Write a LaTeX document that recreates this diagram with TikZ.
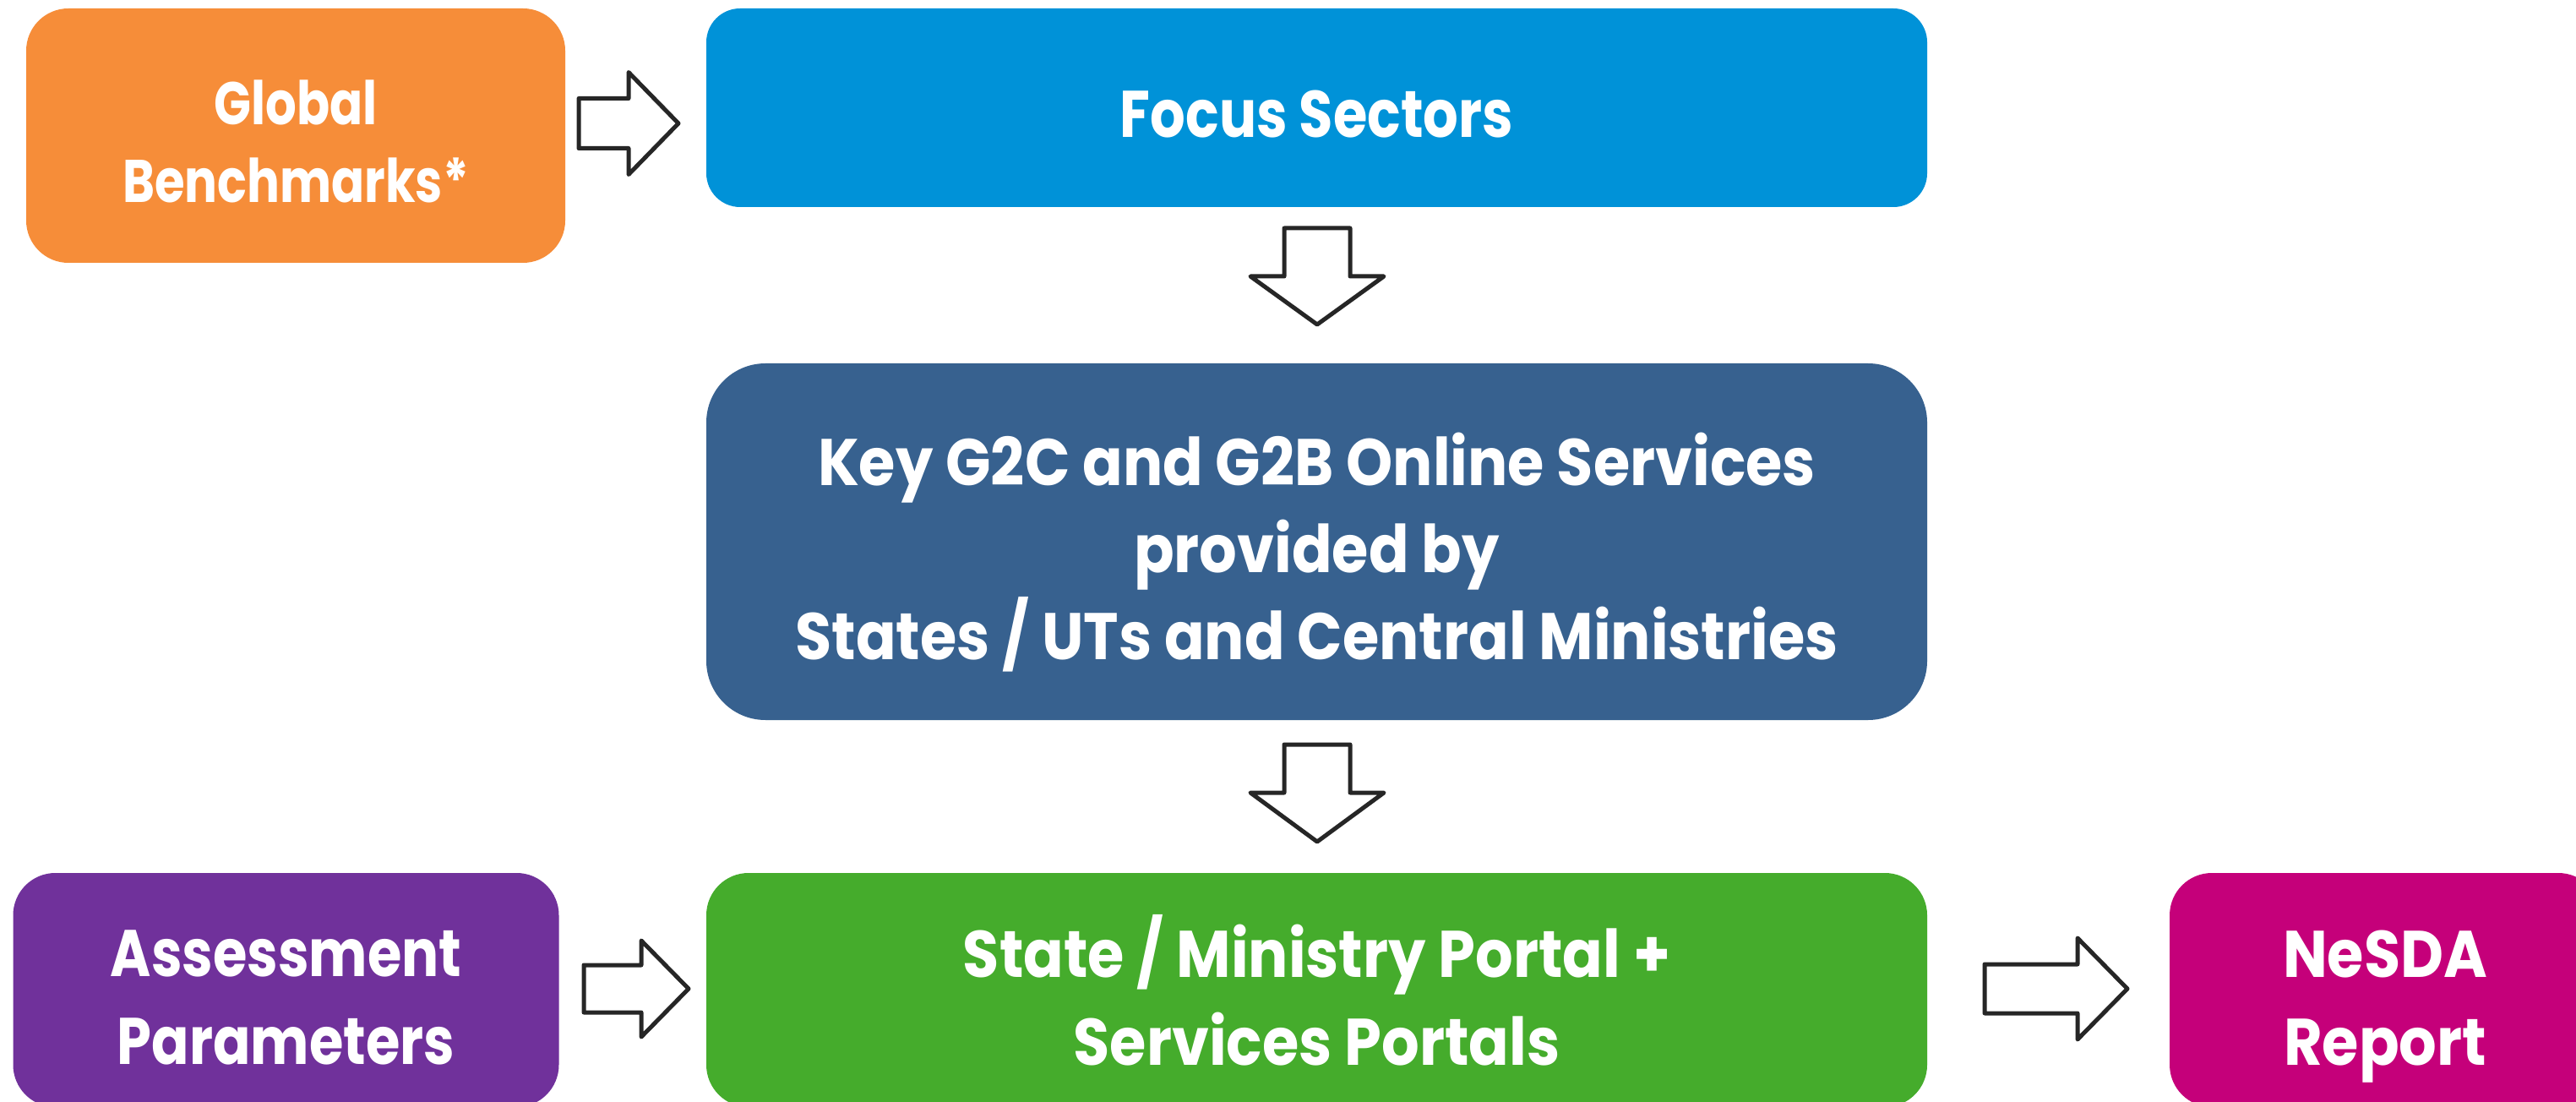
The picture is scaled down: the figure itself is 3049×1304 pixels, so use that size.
\documentclass[tikz,border=0pt]{standalone}
\usepackage{fontspec}
\newfontfamily\fontG{Poppins}[FakeStretch=0.81]
\newfontfamily\fontA{Poppins}[FakeStretch=0.84]
\newfontfamily\fontB{Poppins}[FakeStretch=0.90]
\definecolor{cOrange}{HTML}{F68D39}
\definecolor{cBlue}{HTML}{0092D8}
\definecolor{cNavy}{HTML}{37618F}
\definecolor{cGreen}{HTML}{45AC2C}
\definecolor{cPurple}{HTML}{70319B}
\definecolor{cMagenta}{HTML}{C5007A}
\definecolor{cArrow}{HTML}{262626}
\tikzset{
  box/.style={draw=none, rounded corners=12.5pt, inner sep=0pt},
  lbl/.style={text=white, align=center, inner sep=0pt},
  blockarrow/.style={draw=cArrow, fill=white, line width=1.25pt, line join=round},
}
\begin{document}
\begin{tikzpicture}[x=0.25pt,y=-0.25pt]
\useasboundingbox (0,0) rectangle (3049,1304);
\fill[white] (0,0) rectangle (3049,1304);
\clip (0,0) rectangle (3049,1304);
% boxes
\node[box, fill=cOrange, minimum width=159.5pt, minimum height=75.25pt] (gb) at (350,160.5) {};
\node[box, fill=cBlue, minimum width=361.25pt, minimum height=58.75pt, rounded corners=10pt] (fs) at (1558.5,127.5) {};
\node[box, fill=cNavy, minimum width=361.25pt, minimum height=105.5pt, rounded corners=17.5pt] (key) at (1558.5,641) {};
\node[box, fill=cPurple, minimum width=161.5pt, minimum height=69.25pt] (ap) at (338.5,1171.5) {};
\node[box, fill=cGreen, minimum width=361.25pt, minimum height=69.25pt] (sp) at (1558.5,1171.5) {};
\node[box, fill=cMagenta, minimum width=127.5pt, minimum height=69.25pt] (nr) at (2823,1171.5) {};
% texts
\node[lbl, yshift=-1.75pt, font=\fontG\bfseries\fontsize{17.8}{23}\selectfont] (gbt) at (gb) {Global\\Benchmarks*};
\node[lbl, yshift=-2pt, font=\fontA\bfseries\fontsize{19.5}{25.75}\selectfont] (fst) at (fs) {Focus Sectors};
\node[lbl, yshift=-3.25pt, font=\fontB\bfseries\fontsize{19.5}{25.75}\selectfont] (keyt) at (key) {Key G2C and G2B Online Services\\provided by\\States / UTs and Central Ministries};
\node[lbl, yshift=-2.25pt, font=\fontA\bfseries\fontsize{19.5}{26}\selectfont] (apt) at (ap) {Assessment\\Parameters};
\node[lbl, yshift=0pt, font=\fontB\bfseries\fontsize{19.5}{26}\selectfont] (spt) at (sp) {State / Ministry Portal +\\Services Portals};
\node[lbl, yshift=-5pt, font=\fontB\bfseries\fontsize{19.5}{26}\selectfont] (nrt) at (nr) {NeSDA\\Report};
% block arrows
\draw[blockarrow] (685,116.5) -- (744,116.5) -- (744,85.5) -- (803,146) -- (744,206.5) -- (744,175.5) -- (685,175.5) -- cycle;
\draw[blockarrow] (691,1142) -- (759,1142) -- (759,1113) -- (815,1170) -- (759,1227) -- (759,1198) -- (691,1198) -- cycle;
\draw[blockarrow] (2349,1141) -- (2459,1141) -- (2459,1110) -- (2518,1170) -- (2459,1230) -- (2459,1199) -- (2349,1199) -- cycle;
\draw[blockarrow] (1520,270) -- (1598,270) -- (1598,327) -- (1638,327) -- (1559,384) -- (1480,327) -- (1520,327) -- cycle;
\draw[blockarrow] (1520,881) -- (1598,881) -- (1598,938) -- (1638,938) -- (1559,996) -- (1480,938) -- (1520,938) -- cycle;
\end{tikzpicture}
\end{document}
